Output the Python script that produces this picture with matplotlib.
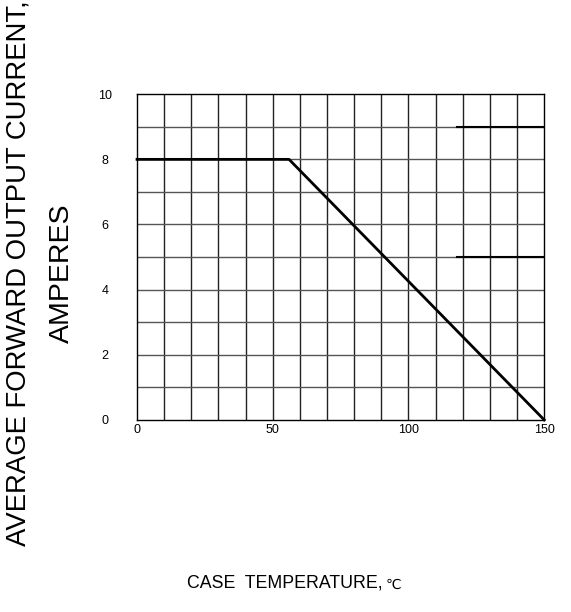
import matplotlib
matplotlib.use("Agg")
import matplotlib.pyplot as plt
import numpy as np

# derating curve
temp = [0, 56, 150]
current = [8, 8, 0]

# short reference marks on the right side
mark_x = [118, 150]
mark_levels = [9, 5]

x_ticks = [0, 50, 100, 150]
y_ticks = [0, 2, 4, 6, 8, 10]

plt.rcParams['font.family'] = ['Liberation Sans', 'DejaVu Sans']

fig = plt.figure(figsize=(5.71, 6.12), dpi=100)
ax = fig.add_axes([0.240, 0.314, 0.713, 0.532])

ax.set_xlim(0, 150)
ax.set_ylim(0, 10)

for xv in np.arange(10, 150, 10):
    ax.axvline(xv, color='#222222', lw=1.0, zorder=1)
for yv in np.arange(1, 10, 1):
    ax.axhline(yv, color='#555555', lw=1.0, zorder=1)

for lvl in mark_levels:
    ax.plot(mark_x, [lvl, lvl], color='black', lw=1.5, zorder=2)

ax.plot(temp, current, color='black', lw=2.0, zorder=3, clip_on=False)

for s in ax.spines.values():
    s.set_color('black')
    s.set_linewidth(1.0)

ax.set_xticks(x_ticks)
ax.set_yticks(y_ticks)
ax.tick_params(length=0)
ax.tick_params(axis='x', pad=3, labelsize=9)
ax.tick_params(axis='y', pad=23, labelsize=9)
for lab in ax.get_yticklabels():
    lab.set_horizontalalignment('center')

fig.text(0.032, 0.553, "AVERAGE FORWARD OUTPUT CURRENT,", rotation=90,
         ha='center', va='center', fontsize=19.8)
fig.text(0.109, 0.553, "AMPERES", rotation=90,
         ha='center', va='center', fontsize=20.5)

xl = fig.text(187 / 571, 1 - 583 / 612, "CASE  TEMPERATURE,", ha='left',
              va='center', fontsize=12.8)
fig.canvas.draw()
bb = xl.get_window_extent()
fig.text((bb.x1 + 3) / fig.bbox.width, 1 - 585 / 612, "\u2103", ha='left',
         va='center', fontsize=10, family=['DejaVu Sans'])

fig.savefig("out.png", dpi=100)
